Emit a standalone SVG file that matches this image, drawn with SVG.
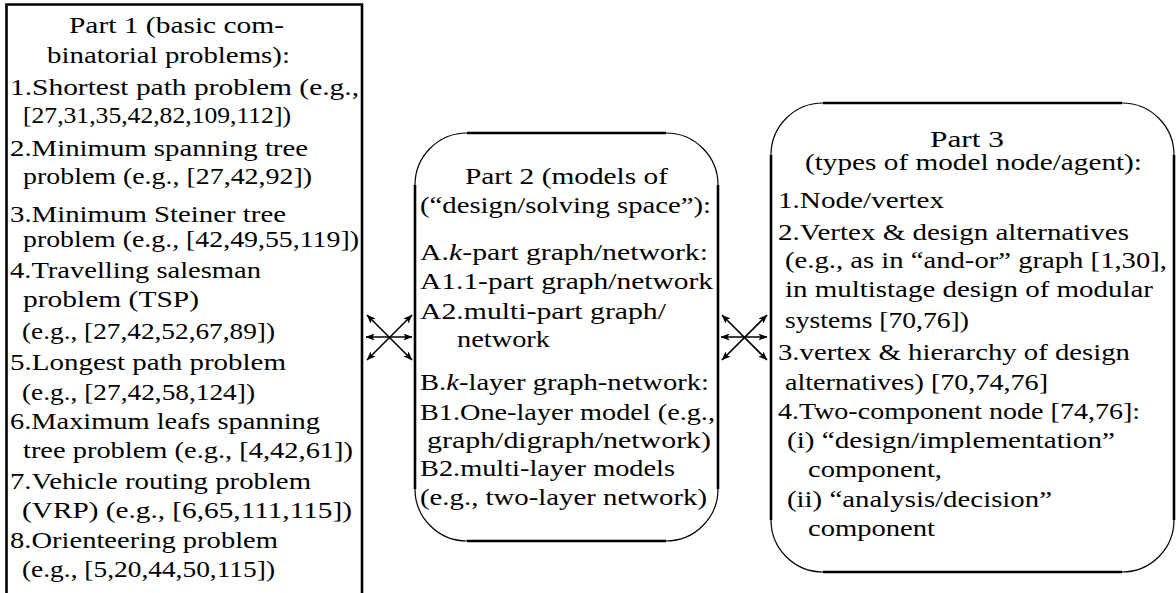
<svg xmlns="http://www.w3.org/2000/svg" width="1176" height="593" viewBox="0 0 1176 593">
<style>
text{font-family:'Liberation Serif','Times New Roman',serif;font-size:22.5px;fill:#000}
.thin{fill:none;stroke:#000;stroke-width:1.2}
.thick{fill:none;stroke:#000;stroke-width:2.6}
.con{fill:none;stroke:#000;stroke-width:1.6}
.it{font-style:italic}
</style>
<defs>
<marker id="ah" markerWidth="9" markerHeight="7" refX="8.5" refY="3.5" orient="auto-start-reverse" markerUnits="userSpaceOnUse">
<path d="M0,0 L9,3.5 L0,7 L2,3.5 Z" fill="#000"/>
</marker>
</defs>
<rect width="1176" height="593" fill="#fff"/>

<g id="part1">
<path class="thick" d="M6.5,600 V4.5 H362 V600"/>
<text x="69" y="33" textLength="215" lengthAdjust="spacingAndGlyphs">Part 1 (basic com-</text>
<text x="47" y="63" textLength="243" lengthAdjust="spacingAndGlyphs">binatorial problems):</text>
<text x="10" y="95" textLength="349" lengthAdjust="spacingAndGlyphs">1.Shortest path problem (e.g.,</text>
<text x="23" y="123" textLength="268" lengthAdjust="spacingAndGlyphs">[27,31,35,42,82,109,112])</text>
<text x="10" y="156" textLength="298" lengthAdjust="spacingAndGlyphs">2.Minimum spanning tree</text>
<text x="23" y="184" textLength="289" lengthAdjust="spacingAndGlyphs">problem (e.g., [27,42,92])</text>
<text x="10" y="222" textLength="276" lengthAdjust="spacingAndGlyphs">3.Minimum Steiner tree</text>
<text x="23" y="247" textLength="336" lengthAdjust="spacingAndGlyphs">problem (e.g., [42,49,55,119])</text>
<text x="10" y="278" textLength="251" lengthAdjust="spacingAndGlyphs">4.Travelling salesman</text>
<text x="23" y="307" textLength="176" lengthAdjust="spacingAndGlyphs">problem (TSP)</text>
<text x="22" y="339" textLength="253" lengthAdjust="spacingAndGlyphs">(e.g., [27,42,52,67,89])</text>
<text x="10" y="370" textLength="276" lengthAdjust="spacingAndGlyphs">5.Longest path problem</text>
<text x="22" y="400" textLength="233" lengthAdjust="spacingAndGlyphs">(e.g., [27,42,58,124])</text>
<text x="10" y="429" textLength="310" lengthAdjust="spacingAndGlyphs">6.Maximum leafs spanning</text>
<text x="23" y="458" textLength="330" lengthAdjust="spacingAndGlyphs">tree problem (e.g., [4,42,61])</text>
<text x="10" y="489" textLength="301" lengthAdjust="spacingAndGlyphs">7.Vehicle routing problem</text>
<text x="22" y="518" textLength="330" lengthAdjust="spacingAndGlyphs">(VRP) (e.g., [6,65,111,115])</text>
<text x="10" y="548" textLength="268" lengthAdjust="spacingAndGlyphs">8.Orienteering problem</text>
<text x="22" y="577" textLength="253" lengthAdjust="spacingAndGlyphs">(e.g., [5,20,44,50,115])</text>
</g>

<g id="part2">
<rect class="thin" x="415" y="133" width="303" height="408" rx="52" ry="52" fill="#fff"/>
<path class="thick" d="M467,133 H666 M467,541 H666 M415,185 V489 M718,185 V489"/>
<text x="465" y="184" textLength="203" lengthAdjust="spacingAndGlyphs">Part 2 (models of</text>
<text x="420" y="213" textLength="291" lengthAdjust="spacingAndGlyphs">(“design/solving space”):</text>
<text x="420" y="260" textLength="288" lengthAdjust="spacingAndGlyphs">A.<tspan class="it">k</tspan>-part graph/network:</text>
<text x="420" y="289" textLength="293" lengthAdjust="spacingAndGlyphs">A1.1-part graph/network</text>
<text x="420" y="319" textLength="246" lengthAdjust="spacingAndGlyphs">A2.multi-part graph/</text>
<text x="457" y="347" textLength="93" lengthAdjust="spacingAndGlyphs">network</text>
<text x="420" y="390" textLength="289" lengthAdjust="spacingAndGlyphs">B.<tspan class="it">k</tspan>-layer graph-network:</text>
<text x="420" y="420" textLength="295" lengthAdjust="spacingAndGlyphs">B1.One-layer model (e.g.,</text>
<text x="427" y="448" textLength="284" lengthAdjust="spacingAndGlyphs">graph/digraph/network)</text>
<text x="420" y="476" textLength="255" lengthAdjust="spacingAndGlyphs">B2.multi-layer models</text>
<text x="420" y="505" textLength="287" lengthAdjust="spacingAndGlyphs">(e.g., two-layer network)</text>
</g>

<g id="part3">
<rect class="thin" x="771" y="103" width="403" height="469" rx="52" ry="52" fill="#fff"/>
<path class="thick" d="M823,103 H1122 M823,572 H1122 M771,155 V520 M1174,155 V520"/>
<text x="930" y="147" textLength="74" lengthAdjust="spacingAndGlyphs">Part 3</text>
<text x="805" y="170" textLength="337" lengthAdjust="spacingAndGlyphs">(types of model node/agent):</text>
<text x="778" y="208" textLength="166" lengthAdjust="spacingAndGlyphs">1.Node/vertex</text>
<text x="778" y="240" textLength="351" lengthAdjust="spacingAndGlyphs">2.Vertex &amp; design alternatives</text>
<text x="785" y="268" textLength="382" lengthAdjust="spacingAndGlyphs">(e.g., as in “and-or” graph [1,30],</text>
<text x="785" y="297" textLength="368" lengthAdjust="spacingAndGlyphs">in multistage design of modular</text>
<text x="785" y="328" textLength="184" lengthAdjust="spacingAndGlyphs">systems [70,76])</text>
<text x="778" y="360" textLength="352" lengthAdjust="spacingAndGlyphs">3.vertex &amp; hierarchy of design</text>
<text x="785" y="390" textLength="263" lengthAdjust="spacingAndGlyphs">alternatives) [70,74,76]</text>
<text x="778" y="419" textLength="362" lengthAdjust="spacingAndGlyphs">4.Two-component node [74,76]:</text>
<text x="787" y="448" textLength="328" lengthAdjust="spacingAndGlyphs">(i) “design/implementation”</text>
<text x="808" y="477" textLength="134" lengthAdjust="spacingAndGlyphs">component,</text>
<text x="787" y="507" textLength="265" lengthAdjust="spacingAndGlyphs">(ii) “analysis/decision”</text>
<text x="808" y="536" textLength="127" lengthAdjust="spacingAndGlyphs">component</text>
</g>

<g id="connectors">
<path class="con" d="M366,337 H412" marker-start="url(#ah)" marker-end="url(#ah)"/>
<path class="con" d="M367,315 L412,360" marker-start="url(#ah)" marker-end="url(#ah)"/>
<path class="con" d="M412,315 L367,360" marker-start="url(#ah)" marker-end="url(#ah)"/>
<path class="con" d="M721,337 H767" marker-start="url(#ah)" marker-end="url(#ah)"/>
<path class="con" d="M722,315 L767,360" marker-start="url(#ah)" marker-end="url(#ah)"/>
<path class="con" d="M767,315 L722,360" marker-start="url(#ah)" marker-end="url(#ah)"/>
</g>
</svg>
